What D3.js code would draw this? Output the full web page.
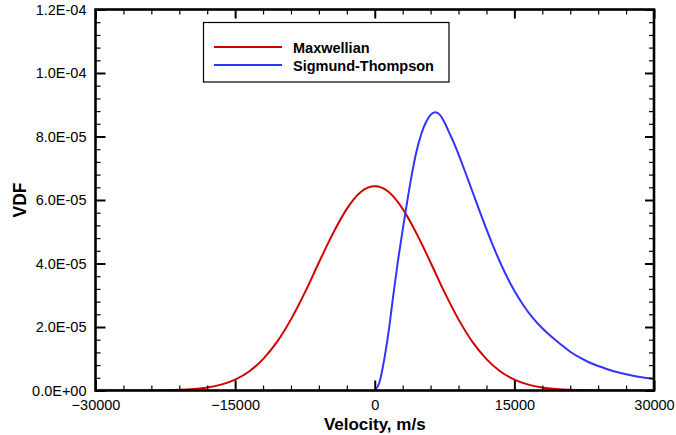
<!DOCTYPE html>
<html>
<head>
<meta charset="utf-8">
<script src="https://cdn.jsdelivr.net/npm/d3@7"></script>
<style>
  html, body { margin: 0; padding: 0; background: #fff; }
  svg { display: block; font-family: "Liberation Sans", Arial, Helvetica, sans-serif; }
</style>
</head>
<body>
<svg id="chart" width="676" height="435"></svg>
<script>
// ---- data ----
const seriesNames = ["Maxwellian", "Sigmund-Thompson"];
const seriesColors = ["#d20000", "#3333ff"];

const maxwellV = [-30000,-28500,-27000,-25500,-24000,-22500,-21000,-19500,-18000,-16500,-15000,-13500,-12000,-10500,-9000,-7500,-6000,-4500,-3000,-1500,
  0,1500,3000,4500,6000,7500,9000,10500,12000,13500,15000,16500,18000,19500,21000,22500,24000,25500,27000,28500,30000];
const maxwellF = [0,0,0,0.001e-5,0.004e-5,0.009e-5,0.021e-5,0.046e-5,0.095e-5,0.186e-5,0.345e-5,0.60e-5,0.99e-5,1.53e-5,2.24e-5,3.09e-5,4.03e-5,4.94e-5,5.72e-5,6.25e-5,
  6.43e-5,6.25e-5,5.72e-5,4.94e-5,4.03e-5,3.09e-5,2.24e-5,1.53e-5,0.99e-5,0.60e-5,0.345e-5,0.186e-5,0.095e-5,0.046e-5,0.021e-5,0.009e-5,0.004e-5,0.001e-5,0,0,0];

const sigmundV = [0,500,1000,1500,2000,2500,3000,3500,4000,4500,5000,5500,6000,6500,7000,7500,8000,8500,9000,10000,11000,12000,13000,14000,15000,16000,17000,18000,19000,20000,21000,22000,23000,24000,25000,26000,27000,28000,29000,30000];
const sigmundF = [0,0.25e-5,0.95e-5,1.88e-5,3.02e-5,4.10e-5,5.06e-5,5.98e-5,6.83e-5,7.55e-5,8.08e-5,8.45e-5,8.68e-5,8.76e-5,8.68e-5,8.44e-5,8.12e-5,7.80e-5,7.44e-5,6.66e-5,5.86e-5,5.08e-5,4.35e-5,3.70e-5,3.14e-5,2.67e-5,2.28e-5,1.96e-5,1.69e-5,1.45e-5,1.22e-5,1.04e-5,0.89e-5,0.77e-5,0.67e-5,0.58e-5,0.51e-5,0.45e-5,0.40e-5,0.36e-5];

const xTickValues = [-30000,-15000,0,15000,30000];
const yTickValues = [0,2e-5,4e-5,6e-5,8e-5,1e-4,1.2e-4];
const xTitle = "Velocity, m/s";
const yTitle = "VDF";

// ---- layout ----
const L = 95.5, R = 654, T = 9.5, B = 390.5;
const svg = d3.select("#chart");
const x = d3.scaleLinear().domain([-30000, 30000]).range([L, R]);
const y = d3.scaleLinear().domain([0, 1.2e-4]).range([B, T]);

const fmtY = d => {
  if (d === 0) return "0.0E+00";
  const s = d3.format(".1e")(d);
  const [m, e] = s.split("e");
  const sign = e[0] === "-" ? "-" : "+";
  const digits = e.replace(/^[+-]/, "").padStart(2, "0");
  return m + "E" + sign + digits;
};

svg.append("defs").append("clipPath").attr("id", "clip")
  .append("rect").attr("x", L).attr("y", T).attr("width", R - L).attr("height", B - T);

// curves
const line = d3.line().x(d => x(d[0])).y(d => y(d[1])).curve(d3.curveMonotoneX);
const g = svg.append("g").attr("clip-path", "url(#clip)");
g.append("path").datum(maxwellV.map((v, i) => [v, maxwellF[i]]))
  .attr("d", line).attr("fill", "none").attr("stroke", seriesColors[0]).attr("stroke-width", 2);
g.append("path").datum(sigmundV.map((v, i) => [v, sigmundF[i]]))
  .attr("d", line).attr("fill", "none").attr("stroke", seriesColors[1]).attr("stroke-width", 2);

// minor tick values
const xMinor = d3.range(-30000, 30001, 3000).filter(v => !xTickValues.includes(v));
const yMinor = d3.range(0, 31).map(i => i * 4e-6).filter(v => !yTickValues.some(t => Math.abs(t - v) < 1e-10));

function styleAxis(sel, labels) {
  sel.select(".domain").remove();
  sel.selectAll(".tick line").attr("stroke", "#000");
  if (labels) sel.selectAll(".tick text").attr("fill", "#000").style("font-size", "14.5px");
  else sel.selectAll(".tick text").remove();
}

// bottom
svg.append("g").attr("transform", `translate(0,${B})`)
  .call(d3.axisBottom(x).tickValues(xMinor).tickSizeInner(-5).tickSizeOuter(0))
  .call(s => styleAxis(s, false)).selectAll(".tick line").attr("stroke-width", 1.2);
svg.append("g").attr("transform", `translate(0,${B})`)
  .call(d3.axisBottom(x).tickValues(xTickValues).tickFormat(d3.format("d")).tickSizeInner(-10).tickSizeOuter(0).tickPadding(9))
  .call(s => styleAxis(s, true)).selectAll(".tick line").attr("stroke-width", 2);
// top
svg.append("g").attr("transform", `translate(0,${T})`)
  .call(d3.axisTop(x).tickValues(xMinor).tickSizeInner(-5).tickSizeOuter(0))
  .call(s => styleAxis(s, false)).selectAll(".tick line").attr("stroke-width", 1.2);
svg.append("g").attr("transform", `translate(0,${T})`)
  .call(d3.axisTop(x).tickValues(xTickValues).tickSizeInner(-9).tickSizeOuter(0))
  .call(s => styleAxis(s, false)).selectAll(".tick line").attr("stroke-width", 2);
// left
svg.append("g").attr("transform", `translate(${L},0)`)
  .call(d3.axisLeft(y).tickValues(yMinor).tickSizeInner(-5).tickSizeOuter(0))
  .call(s => styleAxis(s, false)).selectAll(".tick line").attr("stroke-width", 1.2);
svg.append("g").attr("transform", `translate(${L},0)`)
  .call(d3.axisLeft(y).tickValues(yTickValues).tickFormat(fmtY).tickSizeInner(-10).tickSizeOuter(0).tickPadding(9))
  .call(s => styleAxis(s, true)).selectAll(".tick line").attr("stroke-width", 2);
// right
svg.append("g").attr("transform", `translate(${R},0)`)
  .call(d3.axisRight(y).tickValues(yMinor).tickSizeInner(-5).tickSizeOuter(0))
  .call(s => styleAxis(s, false)).selectAll(".tick line").attr("stroke-width", 1.2);
svg.append("g").attr("transform", `translate(${R},0)`)
  .call(d3.axisRight(y).tickValues(yTickValues).tickSizeInner(-9).tickSizeOuter(0))
  .call(s => styleAxis(s, false)).selectAll(".tick line").attr("stroke-width", 2);

// frame
svg.append("rect").attr("x", L).attr("y", T).attr("width", R - L).attr("height", B - T)
  .attr("fill", "none").attr("stroke", "#000").attr("stroke-width", 2.6);

// axis titles
svg.append("text").attr("x", (L + R) / 2).attr("y", 429.5).attr("text-anchor", "middle")
  .style("font-weight", "bold").style("font-size", "17px").text(xTitle);
svg.append("text").attr("transform", `translate(26,${(T + B) / 2}) rotate(-90)`).attr("text-anchor", "middle")
  .style("font-weight", "bold").style("font-size", "17.5px").text(yTitle);

// legend
const lg = svg.append("g");
lg.append("rect").attr("x", 203.5).attr("y", 22.5).attr("width", 245.5).attr("height", 59.5)
  .attr("fill", "#fff").attr("stroke", "#000").attr("stroke-width", 1.2);
seriesNames.forEach((name, i) => {
  const yy = 47 + i * 18;
  lg.append("line").attr("x1", 214).attr("x2", 282).attr("y1", yy).attr("y2", yy)
    .attr("stroke", seriesColors[i]).attr("stroke-width", 2);
  lg.append("text").attr("x", 293).attr("y", yy + 5.5)
    .style("font-weight", "bold").style("font-size", "14.5px").text(name);
});
</script>
</body>
</html>
